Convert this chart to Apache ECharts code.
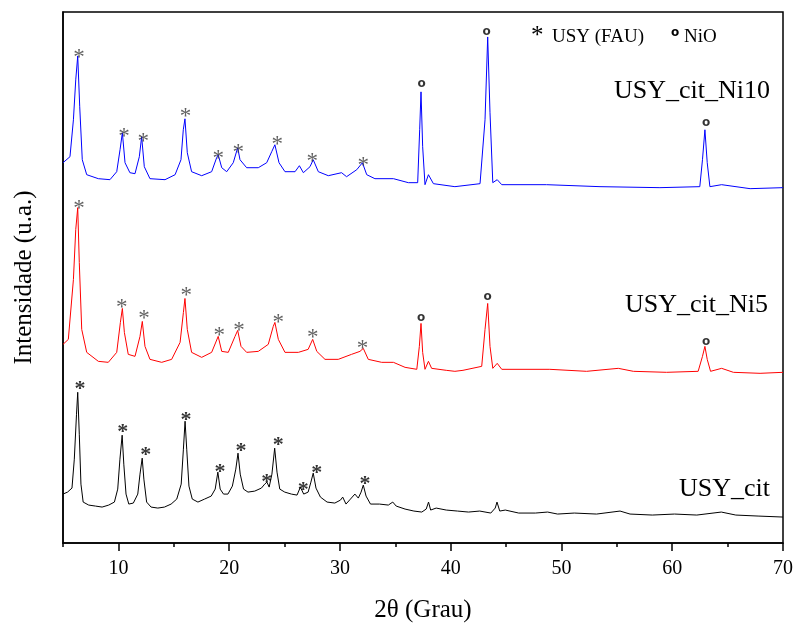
<!DOCTYPE html>
<html>
<head>
<meta charset="utf-8">
<script src="https://cdn.jsdelivr.net/npm/echarts@6/dist/echarts.min.js"></script>
<style>
  html, body { margin: 0; padding: 0; background: #fff; }
  #main { width: 799px; height: 628px; }
</style>
</head>
<body>
<div id="main"></div>
<script>
// 2θ (Grau) / intensidade (u.a., offset per sample)
var usyCit = [
  [5.0,50],[5.41,52],[5.81,56],[6.02,85],[6.22,130],[6.33,152],[6.47,110],[6.62,60],[6.82,42],[7.32,39],
  [7.93,38],[8.53,37],[9.13,39],[9.64,42],[9.94,55],[10.14,85],[10.34,109],[10.49,80],[10.69,50],[10.94,40],
  [11.35,41],[11.75,50],[11.95,70],[12.15,86],[12.3,65],[12.55,42],[12.95,37],[13.56,36],[14.16,37],[14.76,40],
  [15.27,45],[15.67,60],[15.87,95],[16.02,123],[16.17,95],[16.37,58],[16.67,45],[17.18,42],[17.78,45],[18.38,48],
  [18.74,55],[18.98,72],[19.19,55],[19.49,50],[19.89,50],[20.29,58],[20.6,75],[20.8,91],[21.0,70],[21.3,55],
  [21.7,52],[22.31,53],[22.91,56],[23.21,60],[23.41,62],[23.61,57],[23.86,70],[24.11,96],[24.32,72],[24.57,55],
  [25.02,52],[25.62,50],[26.13,49],[26.43,57],[26.73,50],[27.13,52],[27.38,62],[27.59,71],[27.84,56],[28.24,47],
  [28.84,42],[29.54,41],[30.05,44],[30.25,47],[30.55,40],[30.95,45],[31.35,50],[31.66,46],[31.91,52],[32.11,59],
  [32.36,48],[32.76,40],[33.57,40],[34.37,39],[34.77,42],[35.08,38],[35.88,35],[36.68,33],[37.39,32],[37.79,35],
  [38.0,42],[38.19,34],[38.69,36],[39.6,34],[40.61,33],[41.61,32],[42.62,33],[43.62,31],[44.02,36],[44.18,42],
  [44.43,33],[44.93,34],[46.14,31],[47.64,31],[48.75,32],[49.65,30],[51.16,31],[53.17,30],[55.29,33],[56.19,30],
  [58.2,29],[60.21,30],[62.22,29],[64.43,32],[65.74,29],[67.75,28],[70,27]
];
var usyCitNi5 = [
  [5.0,200],[5.48,205],[5.94,265],[6.15,315],[6.33,337],[6.47,282],[6.69,215],[7.14,192],[8.19,183],[9.09,182],
  [9.85,192],[10.18,222],[10.36,236],[10.54,212],[10.89,190],[11.5,188],[11.95,208],[12.16,223],[12.4,198],[12.85,185],
  [13.91,182],[14.81,185],[15.57,202],[15.87,232],[16.01,246],[16.22,215],[16.61,192],[17.52,187],[18.42,192],[19.01,208],
  [19.33,193],[19.92,192],[20.53,208],[20.77,214],[21.07,198],[21.58,192],[22.63,193],[23.53,200],[23.98,218],[24.13,222],
  [24.44,205],[25.04,192],[26.25,192],[27.13,195],[27.54,205],[27.91,193],[28.65,185],[29.85,185],[31.05,190],[31.81,193],
  [32.11,196],[32.56,185],[33.77,182],[34.83,182],[35.88,177],[36.94,175],[37.17,198],[37.32,221],[37.47,192],[37.68,175],
  [37.99,183],[38.28,176],[39.6,174],[40.38,173],[41.11,174],[42.8,178],[43.1,215],[43.34,241],[43.55,198],[43.8,176],
  [44.2,181],[44.61,175],[48.95,175],[52.27,173],[55.13,176],[56.49,173],[59.49,172],[62.34,173],[62.73,188],[62.95,198],
  [63.16,185],[63.46,173],[64.46,176],[65.52,172],[67.93,171],[70,172]
];
var usyCitNi10 = [
  [5.0,382],[5.63,388],[5.94,425],[6.15,465],[6.33,489],[6.51,438],[6.74,385],[7.14,370],[8.19,366],[9.24,365],
  [9.85,373],[10.15,395],[10.36,412],[10.6,382],[11.04,372],[11.5,371],[11.89,388],[12.1,408],[12.34,378],[12.85,366],
  [14.21,365],[15.12,370],[15.65,385],[15.86,415],[16.01,426],[16.22,392],[16.61,373],[17.52,369],[18.42,373],[18.87,387],
  [19.01,390],[19.33,377],[19.78,373],[20.37,382],[20.77,397],[20.98,385],[21.58,377],[22.63,377],[23.39,382],[23.84,393],
  [24.13,400],[24.5,382],[25.04,373],[25.95,373],[26.34,379],[26.7,372],[27.3,378],[27.59,385],[28.05,373],[28.95,369],
  [30.15,372],[30.6,368],[31.52,375],[32.03,382],[32.42,370],[33.16,366],[34.83,366],[36.18,362],[37.02,362],[37.2,415],
  [37.32,453],[37.47,398],[37.68,360],[37.99,370],[38.44,361],[40.38,358],[42.65,361],[43.1,425],[43.34,508],[43.55,432],
  [43.8,362],[44.2,365],[44.61,360],[48.65,360],[53.48,358],[58.89,357],[62.49,358],[62.73,385],[62.95,415],[63.16,382],
  [63.4,358],[64.46,360],[67.03,356],[70,357]
];

// marcadores: * = USY (FAU), o = NiO
var fauCit = [[6.54,160],[10.39,117],[12.46,94],[16.1,129],[19.18,77],[21.07,98],[23.39,67],[24.44,104],[26.7,59],[27.91,76],[32.26,65]];
var fauNi5 = [[6.45,342],[10.3,242],[12.31,231],[16.13,255],[19.11,214],[20.89,219],[24.44,227],[27.54,212],[32.03,201]];
var fauNi10 = [[6.45,493],[10.51,414],[12.25,409],[16.07,434],[19.01,392],[20.83,398],[24.35,406],[27.5,389],[32.11,385]];
var nioNi5 = [[37.32,227],[43.34,248],[63.05,203]];
var nioNi10 = [[37.38,461],[43.25,513],[63.05,422]];

var serif = '"Liberation Serif", "Times New Roman", serif';

function lineSeries(name, data, color) {
	return {name: name, type: 'line', data: data, symbol: 'none', smooth: false,
		lineStyle: {color: color, width: 1}, z: 2};
}
function markSeries(data, text, font, color) {
	return {type: 'scatter', data: data, symbolSize: 1, itemStyle: {color: 'rgba(0,0,0,0)'}, z: 3,
		label: {show: true, position: 'inside', formatter: text, color: color, fontFamily: font.family,
			fontSize: font.size, fontWeight: font.weight, offset: [0, font.dy]}};
}

var myChart = echarts.init(document.getElementById('main'));
var option = {
	animation: false,
	grid: {left: 63, right: 16, top: 12, bottom: 84, show: true, borderColor: '#000', borderWidth: 1.5},
	xAxis: [
		{type: 'value', min: 5, max: 70, splitNumber: 7, name: '2θ (Grau)', nameLocation: 'middle', nameGap: 55,
			nameTextStyle: {fontFamily: serif, fontSize: 25, color: '#000'},
			axisLine: {lineStyle: {color: '#000', width: 1.5}},
			axisTick: {length: 8, lineStyle: {color: '#000', width: 1.5}},
			axisLabel: {showMinLabel: false, margin: 16, fontFamily: serif, fontSize: 20, color: '#000'},
			splitLine: {show: false}},
		{type: 'value', min: 5, max: 70, interval: 5, position: 'bottom',
			axisLine: {show: false}, axisLabel: {show: false}, splitLine: {show: false},
			axisTick: {length: 4, lineStyle: {color: '#000', width: 1.5}}}
	],
	yAxis: {type: 'value', min: 1, max: 533, name: 'Intensidade (u.a.)', nameLocation: 'middle', nameGap: 26,
		nameTextStyle: {fontFamily: serif, fontSize: 25, color: '#000'},
		axisLine: {show: true, lineStyle: {color: '#000', width: 1.5}},
		axisTick: {show: false}, axisLabel: {show: false}, splitLine: {show: false}},
	graphic: [
		{type: 'text', x: 531, y: 36, style: {text: '*', font: '25px ' + serif, fill: '#000', textVerticalAlign: 'middle'}},
		{type: 'text', x: 552, y: 37, style: {text: 'USY (FAU)', font: '19px ' + serif, fill: '#000', textVerticalAlign: 'middle'}},
		{type: 'text', x: 671, y: 33, style: {text: 'o', font: 'bold 12px "DejaVu Sans"', fill: '#000', textVerticalAlign: 'middle'}},
		{type: 'text', x: 684, y: 37, style: {text: 'NiO', font: '19px ' + serif, fill: '#000', textVerticalAlign: 'middle'}},
		{type: 'text', x: 770, y: 91, style: {text: 'USY_cit_Ni10', font: '26px ' + serif, fill: '#000', textAlign: 'right', textVerticalAlign: 'middle'}},
		{type: 'text', x: 768, y: 305, style: {text: 'USY_cit_Ni5', font: '26px ' + serif, fill: '#000', textAlign: 'right', textVerticalAlign: 'middle'}},
		{type: 'text', x: 770, y: 489, style: {text: 'USY_cit', font: '26px ' + serif, fill: '#000', textAlign: 'right', textVerticalAlign: 'middle'}}
	],
	series: [
		lineSeries('USY_cit', usyCit, '#000000'),
		lineSeries('USY_cit_Ni5', usyCitNi5, '#ff0000'),
		lineSeries('USY_cit_Ni10', usyCitNi10, '#0000ff'),
		markSeries(fauCit, '*', {family: serif, size: 22, weight: 'bold', dy: 5}, '#000'),
		markSeries(fauNi5, '*', {family: serif, size: 23, weight: 'normal', dy: 6}, '#3a3a3a'),
		markSeries(fauNi10, '*', {family: serif, size: 23, weight: 'normal', dy: 6}, '#3a3a3a'),
		markSeries(nioNi5, 'o', {family: '"DejaVu Sans"', size: 12, weight: 'bold', dy: 0}, '#000'),
		markSeries(nioNi10, 'o', {family: '"DejaVu Sans"', size: 12, weight: 'bold', dy: 0}, '#000')
	]
};
myChart.setOption(option);
</script>
</body>
</html>
